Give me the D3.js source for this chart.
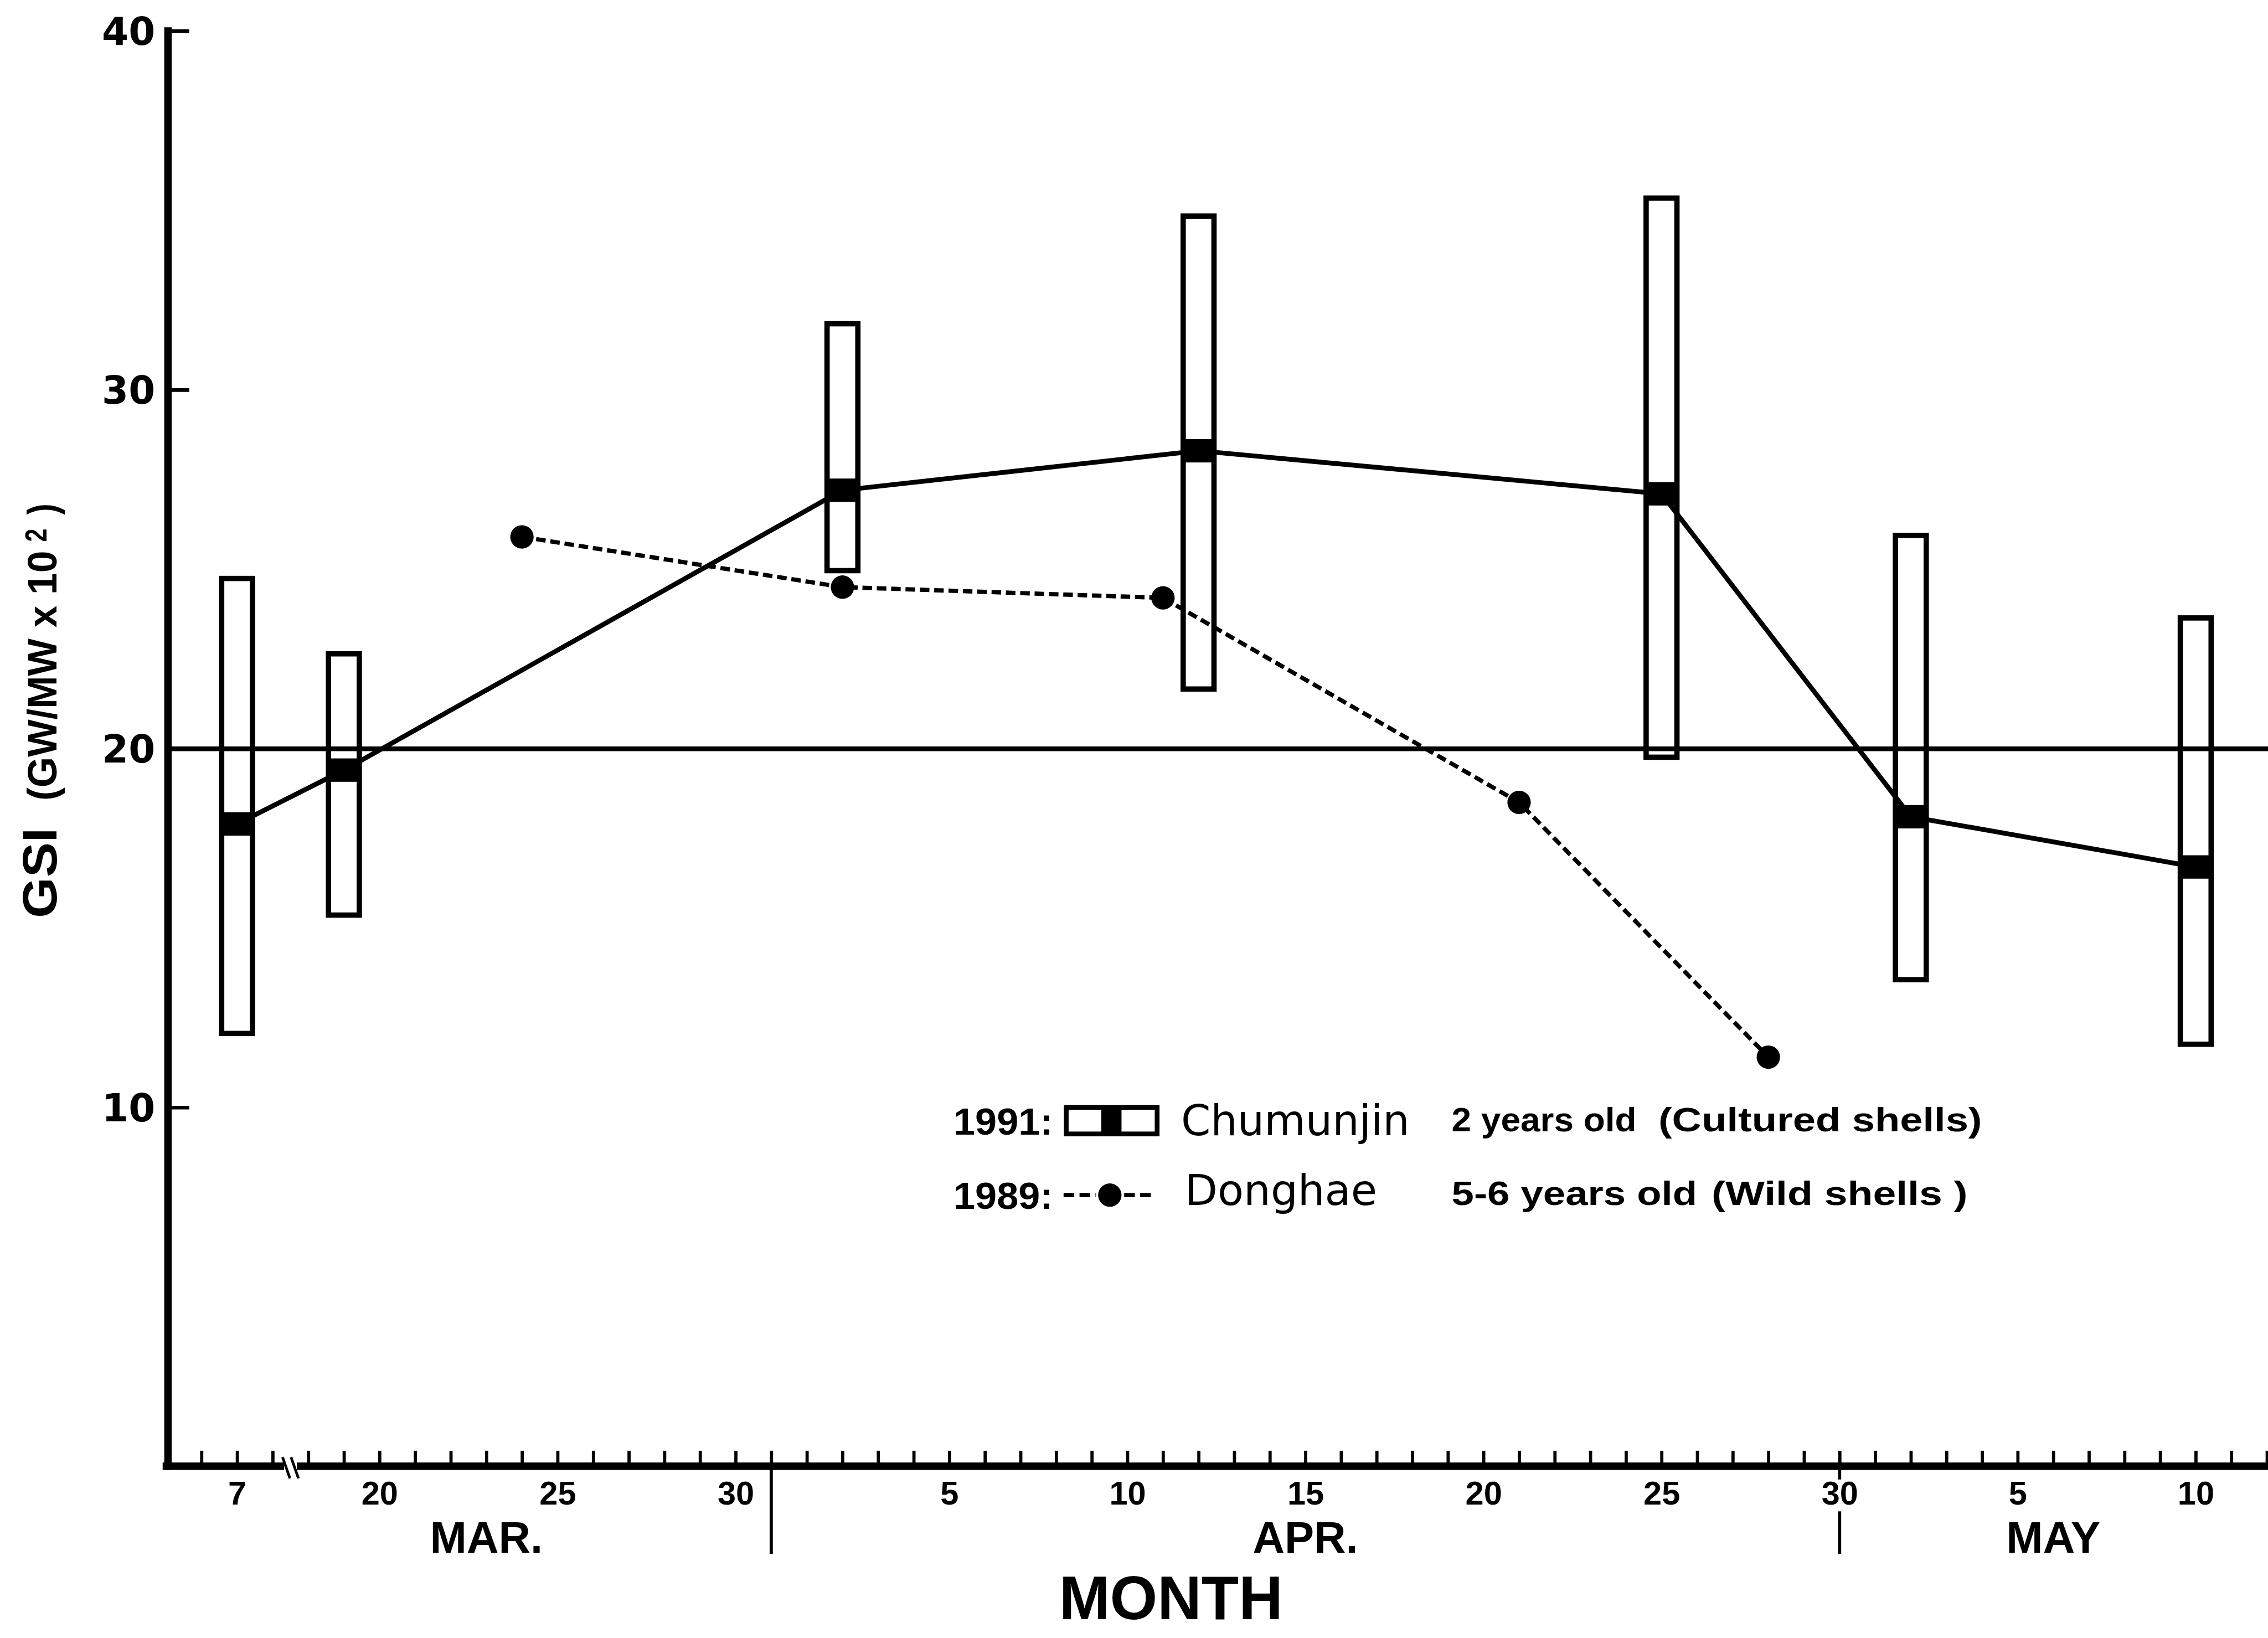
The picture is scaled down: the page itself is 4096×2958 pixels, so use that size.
<!DOCTYPE html>
<html>
<head>
<meta charset="utf-8">
<script src="https://cdn.jsdelivr.net/npm/d3@7"></script>
<style>
  html, body { margin: 0; padding: 0; background: #fff; overflow: hidden; }
  svg { display: block; }
</style>
</head>
<body>
<svg id="chart"></svg>
<script>
// ---- data -------------------------------------------------------------
// Chumunjin 1991, 2 years old (cultured shells): range box + mean
const chumDates = ["3-7", "3-19", "4-2", "4-12", "4-25", "5-2", "5-10"];
const chumHigh  = [24.8, 22.7, 31.9, 34.9, 35.4, 26.0, 23.7];
const chumLow   = [12.0, 15.3, 24.9, 21.6, 19.7, 13.5, 11.7];
const chumMean  = [17.9, 19.4, 27.2, 28.3, 27.1, 18.1, 16.7];

// Donghae 1989, 5-6 years old (wild shells)
const dongDates = ["3-24", "4-2", "4-11", "4-21", "4-28"];
const dongGSI   = [25.9, 24.5, 24.2, 18.5, 11.4];

// axis labelling
const yTickValues   = [10, 20, 30, 40];
const xLabelDates   = ["3-7", "3-20", "3-25", "3-30", "4-5", "4-10", "4-15", "4-20", "4-25", "4-30", "5-5", "5-10"];
const monthNames    = ["MAR.", "APR.", "MAY"];
const monthMidDates = ["3-23", "4-15", "5-6"];
const monthEndDates = ["3-31", "4-30"];

// ---- layout (reference units, scaled by the viewBox) -----------------
const W = 4267, H = 3081;
const svg = d3.select("#chart")
  .attr("width", 4096).attr("height", 2958)
  .attr("viewBox", `0 0 ${W} ${H}`);

const SANS = "'Liberation Sans', Arial, Helvetica, sans-serif";
const NARROW = "'Liberation Sans Narrow', 'Liberation Sans', Arial, sans-serif";
const WIDE = "'DejaVu Sans', Verdana, sans-serif";

// Day position along the time axis. Mar 9-17 is cut out (axis break).
function dayIndex(s) {
  const [m, d] = s.split("-").map(Number);
  if (m === 3) return d <= 8 ? d - 5 : d - 14;
  if (m === 4) return 17 + d;
  return 47 + d;
}

const x = d3.scaleLinear().domain([0, 59]).range([312, 312 + 59 * 67]);
const y = d3.scaleLinear().domain([0, 40]).range([2758, 58]);
const xd = s => x(dayIndex(s));

// ---- x axis: daily ticks pointing up ---------------------------------
const dayTicks = d3.range(1, 60);
const xAxis = d3.axisBottom(x)
  .tickValues(dayTicks)
  .tickSizeInner(-29).tickSizeOuter(0)
  .tickFormat("");
const gx = svg.append("g").attr("transform", `translate(0,${y(0)})`).call(xAxis);
gx.select(".domain").attr("stroke", "#000").attr("stroke-width", 14).attr("d", `M${x(0) - 6},0H${W}`);
gx.selectAll(".tick line").attr("stroke", "#000").attr("stroke-width", 6);

// day labels
const dayFmt = new Map(xLabelDates.map(s => [dayIndex(s), s.split("-")[1]]));
const xLab = d3.axisBottom(x)
  .tickValues(xLabelDates.map(dayIndex))
  .tickSize(0).tickPadding(0)
  .tickFormat(v => dayFmt.get(v));
const gxl = svg.append("g").attr("transform", `translate(0,2830)`).call(xLab);
gxl.select(".domain").remove();
gxl.selectAll("text")
  .attr("dy", 0).attr("y", 0)
  .attr("font-family", SANS).attr("font-weight", "bold").attr("font-size", 62)
  .attr("fill", "#000");

// axis break marks between Mar 8 and Mar 18
const bx = x(3.5);
svg.append("rect").attr("x", bx - 12).attr("y", y(0) - 9).attr("width", 24).attr("height", 18).attr("fill", "#fff");
[-8, 8].forEach(o => {
  svg.append("line")
    .attr("x1", bx + o - 7).attr("y1", y(0) - 17)
    .attr("x2", bx + o + 7).attr("y2", y(0) + 23)
    .attr("stroke", "#000").attr("stroke-width", 5);
});

// month separators
monthEndDates.forEach((s, i) => {
  const sx = xd(s);
  if (i === 0) {
    svg.append("line").attr("x1", sx).attr("x2", sx).attr("y1", y(0)).attr("y2", 2923)
      .attr("stroke", "#000").attr("stroke-width", 6);
  } else {
    svg.append("line").attr("x1", sx).attr("x2", sx).attr("y1", y(0)).attr("y2", 2783)
      .attr("stroke", "#000").attr("stroke-width", 6);
    svg.append("line").attr("x1", sx).attr("x2", sx).attr("y1", 2843).attr("y2", 2923)
      .attr("stroke", "#000").attr("stroke-width", 6);
  }
});

// month names
svg.append("g").selectAll("text").data(monthNames).join("text")
  .attr("x", (d, i) => xd(monthMidDates[i]))
  .attr("y", 2921)
  .attr("text-anchor", "middle")
  .attr("font-family", SANS).attr("font-weight", "bold").attr("font-size", 83)
  .text(d => d);

svg.append("text")
  .attr("x", 2203).attr("y", 3046)
  .attr("text-anchor", "middle")
  .attr("font-family", SANS).attr("font-weight", "bold").attr("font-size", 116)
  .attr("textLength", 421).attr("lengthAdjust", "spacingAndGlyphs")
  .text("MONTH");

// ---- y axis ----------------------------------------------------------
const yAxis = d3.axisLeft(y)
  .tickValues(yTickValues)
  .tickSizeInner(-40).tickSizeOuter(0).tickPadding(24);
const gy = svg.append("g").attr("transform", `translate(${x(0) + 4},0)`).call(yAxis);
gy.select(".domain").attr("stroke", "#000").attr("stroke-width", 14)
  .attr("d", `M0,${y(0) + 7}V${y(40) - 7}`);
gy.selectAll(".tick line").attr("stroke", "#000").attr("stroke-width", 7);
gy.selectAll(".tick").filter(d => d === 20).select("line")
  .attr("x2", W).attr("stroke-width", 9);
gy.selectAll(".tick text")
  .attr("font-family", WIDE).attr("font-weight", "bold").attr("font-size", 72)
  .attr("fill", "#000").attr("dy", "0.36em");

// rotated y title, set piece by piece
const yTitle = [
  { t: "GSI",          x: 106, y: 1727, len: 170, size: 90, fam: NARROW },
  { t: "(GW/MW x 10",  x: 106, y: 1506, len: 470, size: 78, fam: SANS },
  { t: "2",            x: 88,  y: 1019, len: 25,  size: 58, fam: SANS },
  { t: ")",            x: 106, y: 968,  len: 21,  size: 78, fam: SANS }
];
svg.append("g").selectAll("text").data(yTitle).join("text")
  .attr("transform", d => `translate(${d.x},${d.y}) rotate(-90)`)
  .attr("font-family", d => d.fam).attr("font-weight", "bold")
  .attr("font-size", d => d.size)
  .attr("textLength", d => d.len).attr("lengthAdjust", "spacingAndGlyphs")
  .text(d => d.t);

// ---- Donghae series (dashed line + dots) ------------------------------
const dong = dongDates.map((s, i) => ({ x: xd(s), v: dongGSI[i] }));
svg.append("path")
  .datum(dong)
  .attr("fill", "none").attr("stroke", "#000").attr("stroke-width", 8)
  .attr("stroke-dasharray", "18,9")
  .attr("d", d3.line().x(d => d.x).y(d => y(d.v)));
svg.append("g").selectAll("circle").data(dong).join("circle")
  .attr("cx", d => d.x).attr("cy", d => y(d.v)).attr("r", 22).attr("fill", "#000");

// ---- Chumunjin series (range boxes + mean line) -----------------------
const chum = chumDates.map((s, i) => ({ x: xd(s), hi: chumHigh[i], lo: chumLow[i], m: chumMean[i] }));
const BOX_W = 58;
svg.append("path")
  .datum(chum)
  .attr("fill", "none").attr("stroke", "#000").attr("stroke-width", 9)
  .attr("d", d3.line().x(d => d.x).y(d => y(d.m)));
const boxes = svg.append("g").selectAll("g").data(chum).join("g");
boxes.append("rect")
  .attr("x", d => d.x - BOX_W / 2).attr("width", BOX_W)
  .attr("y", d => y(d.hi) + 4).attr("height", d => y(d.lo) - y(d.hi) - 8)
  .attr("fill", "none").attr("stroke", "#000").attr("stroke-width", 10);
boxes.append("rect")
  .attr("x", d => d.x - BOX_W / 2 - 4).attr("width", BOX_W + 8)
  .attr("y", d => y(d.m) - 22).attr("height", 44)
  .attr("fill", "#000");

// ---- legend -----------------------------------------------------------
const lg = svg.append("g");
function ltext(t, lx, ly, len, size, fam, weight) {
  lg.append("text").attr("x", lx).attr("y", ly)
    .attr("font-family", fam).attr("font-weight", weight).attr("font-size", size)
    .attr("textLength", len).attr("lengthAdjust", "spacingAndGlyphs")
    .text(t);
}
ltext("1991:", 1794, 2134, 187, 72, SANS, "bold");
ltext("Chumunjin", 2222, 2135, 430, 80, WIDE, "normal");
ltext("2 years old", 2731, 2128, 348, 64, SANS, "bold");
ltext("(Cultured shells)", 3120, 2128, 609, 64, SANS, "bold");
ltext("1989:", 1794, 2274, 187, 72, SANS, "bold");
ltext("Donghae", 2229, 2267, 362, 80, WIDE, "normal");
ltext("5-6 years old", 2731, 2267, 462, 64, SANS, "bold");
ltext("(Wild shells )", 3220, 2267, 482, 64, SANS, "bold");

// legend glyph: range box with mean bar
lg.append("rect").attr("x", 2006).attr("y", 2083).attr("width", 171).attr("height", 50)
  .attr("fill", "none").attr("stroke", "#000").attr("stroke-width", 9);
lg.append("rect").attr("x", 2072).attr("y", 2083).attr("width", 38).attr("height", 50).attr("fill", "#000");
// legend glyph: dashed line with dot
[[2001, 2062], [2115, 2169]].forEach(([a, b]) => {
  lg.append("line").attr("x1", a).attr("x2", b).attr("y1", 2248).attr("y2", 2248)
    .attr("stroke", "#000").attr("stroke-width", 8).attr("stroke-dasharray", "20,10");
});
lg.append("circle").attr("cx", 2088).attr("cy", 2248).attr("r", 22).attr("fill", "#000");
</script>
</body>
</html>
